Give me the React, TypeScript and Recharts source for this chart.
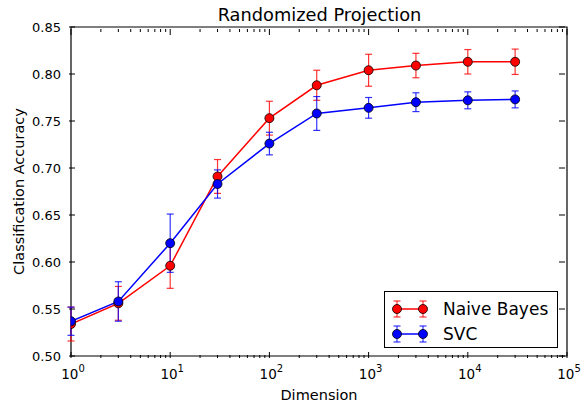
import React from 'react';
import { LineChart, Line, XAxis, YAxis, ErrorBar, ReferenceArea, Legend } from 'recharts';

const dimensions = [1, 3, 10, 30, 100, 300, 1000, 3000, 10000, 30000];
const naiveBayes = [0.534, 0.556, 0.596, 0.691, 0.753, 0.788, 0.804, 0.809, 0.813, 0.813];
const naiveBayesErr = [0.018, 0.018, 0.024, 0.018, 0.018, 0.016, 0.017, 0.013, 0.013, 0.0135];
const svc = [0.537, 0.558, 0.62, 0.683, 0.726, 0.758, 0.764, 0.77, 0.772, 0.773];
const svcErr = [0.015, 0.021, 0.031, 0.015, 0.012, 0.018, 0.011, 0.01, 0.009, 0.009];
const xMajorTicks = [1, 10, 100, 1000, 10000, 100000];
const yTicks = [0.5, 0.55, 0.6, 0.65, 0.7, 0.75, 0.8, 0.85];

const data = dimensions.map((d, i) => ({
  dim: d,
  nb: naiveBayes[i],
  nbErr: naiveBayesErr[i],
  svc: svc[i],
  svcErr: svcErr[i],
}));

// major + minor log ticks (2..9 in each decade)
const xAllTicks: number[] = [];
xMajorTicks.forEach((t, i) => {
  xAllTicks.push(t);
  if (i < xMajorTicks.length - 1) {
    for (let m = 2; m <= 9; m++) xAllTicks.push(t * m);
  }
});

const W = 587;
const H = 403;
const PLOT_L = 71;
const PLOT_T = 27;
const PLOT_R = 567;
const PLOT_B = 356;
const PLOT_W = PLOT_R - PLOT_L;
const PLOT_H = PLOT_B - PLOT_T;
const FONT = '"DejaVu Sans", sans-serif';

const XTick = (props: any) => {
  const { x, y, payload } = props;
  const v = payload.value;
  const exp = Math.round(Math.log10(v));
  const major = Math.abs(Math.pow(10, exp) - v) < 1e-6 * v;
  const len = major ? 6 : 3;
  return (
    <g>
      <line x1={x} x2={x} y1={y} y2={y - len} stroke="#000" strokeWidth={1} />
      <line x1={x} x2={x} y1={y - PLOT_H} y2={y - PLOT_H + len} stroke="#000" strokeWidth={1} />
      {major && (
        <text x={x + 2} y={y + 20.5} textAnchor="middle" fontSize={13.5} fontFamily={FONT} fill="#000">
          10<tspan dy={-7} fontSize={10}>{exp}</tspan>
        </text>
      )}
    </g>
  );
};

const YTick = (props: any) => {
  const { x, y, payload } = props;
  return (
    <g>
      <line x1={x} x2={x + 6} y1={y} y2={y} stroke="#000" strokeWidth={1} />
      <line x1={x + PLOT_W} x2={x + PLOT_W - 6} y1={y} y2={y} stroke="#000" strokeWidth={1} />
      <text x={x - 8} y={y + 5} textAnchor="end" fontSize={13} fontFamily={FONT} fill="#000">
        {payload.value.toFixed(2)}
      </text>
    </g>
  );
};

const LegendMarker = ({ color }: { color: string }) => (
  <svg width={40} height={20} style={{ display: 'block' }}>
    <line x1={6} x2={32} y1={10} y2={10} stroke={color} strokeWidth={1.5} />
    {[6, 32].map((cx) => (
      <g key={cx}>
        <line x1={cx} x2={cx} y1={2} y2={18} stroke={color} strokeWidth={1.2} strokeOpacity={0.8} />
        <line x1={cx - 3.5} x2={cx + 3.5} y1={2} y2={2} stroke={color} strokeWidth={1.2} strokeOpacity={0.8} />
        <line x1={cx - 3.5} x2={cx + 3.5} y1={18} y2={18} stroke={color} strokeWidth={1.2} strokeOpacity={0.8} />
        <circle cx={cx} cy={10} r={4.5} fill={color} stroke="#000" strokeWidth={0.8} />
      </g>
    ))}
  </svg>
);

const LegendBox = () => (
  <div
    style={{
      width: 174,
      height: 57,
      border: '1px solid #000',
      background: '#fff',
      fontFamily: FONT,
      fontSize: 17,
      boxSizing: 'border-box',
      paddingTop: 4,
      paddingLeft: 6,
    }}
  >
    {[
      { name: 'Naive Bayes', color: '#ff0000' },
      { name: 'SVC', color: '#0000ff' },
    ].map((it) => (
      <div key={it.name} style={{ display: 'flex', alignItems: 'center', height: 25.5 }}>
        <LegendMarker color={it.color} />
        <span style={{ marginLeft: 12 }}>{it.name}</span>
      </div>
    ))}
  </div>
);

export default function App() {
  return (
    <div style={{ position: 'absolute', left: 0, top: 0, width: W, height: H, background: '#fff' }}>
      <LineChart
        width={W}
        height={H}
        data={data}
        margin={{ top: PLOT_T, right: W - PLOT_R, left: 0, bottom: 0 }}
      >
        <XAxis
          dataKey="dim"
          type="number"
          scale="log"
          domain={[1, 100000]}
          allowDataOverflow
          ticks={xAllTicks}
          interval={0}
          tick={<XTick />}
          tickLine={false}
          tickSize={0}
          axisLine={false}
          height={H - PLOT_B}
        />
        <YAxis
          type="number"
          domain={[0.5, 0.85]}
          allowDataOverflow
          ticks={yTicks}
          interval={0}
          tick={<YTick />}
          tickLine={false}
          tickSize={0}
          axisLine={false}
          width={PLOT_L}
        />
        <ReferenceArea x1={1} x2={100000} y1={0.5} y2={0.85} fill="none" stroke="#000" strokeWidth={1.2} />
        <Line
          dataKey="nb"
          stroke="#ff0000"
          strokeWidth={1.5}
          dot={{ r: 4.5, fill: '#ff0000', stroke: '#000', strokeWidth: 0.8 }}
          activeDot={false}
          isAnimationActive={false}
        >
          <ErrorBar dataKey="nbErr" direction="y" width={3.5} stroke="#ff0000" strokeWidth={1.2} strokeOpacity={0.8} isAnimationActive={false} />
        </Line>
        <Line
          dataKey="svc"
          stroke="#0000ff"
          strokeWidth={1.5}
          dot={{ r: 4.5, fill: '#0000ff', stroke: '#000', strokeWidth: 0.8 }}
          activeDot={false}
          isAnimationActive={false}
        >
          <ErrorBar dataKey="svcErr" direction="y" width={3.5} stroke="#0000ff" strokeWidth={1.2} strokeOpacity={0.8} isAnimationActive={false} />
        </Line>
        <Legend
          layout="vertical"
          align="center"
          verticalAlign="middle"
          content={<LegendBox />}
          wrapperStyle={{ left: 384, top: 291, width: 174, height: 57 }}
        />
      </LineChart>
      <svg
        width={W}
        height={H}
        style={{ position: 'absolute', left: 0, top: 0, pointerEvents: 'none' }}
        fontFamily={FONT}
      >
        <text x={319.5} y={20.7} textAnchor="middle" fontSize={17.8} fill="#000">
          Randomized Projection
        </text>
        <text x={319} y={399.5} textAnchor="middle" fontSize={14.5} fill="#000">
          Dimension
        </text>
        <text
          x={24}
          y={(PLOT_T + PLOT_B) / 2}
          textAnchor="middle"
          fontSize={14.5}
          fill="#000"
          transform={`rotate(-90, 24, ${(PLOT_T + PLOT_B) / 2})`}
        >
          Classification Accuracy
        </text>
      </svg>
    </div>
  );
}
